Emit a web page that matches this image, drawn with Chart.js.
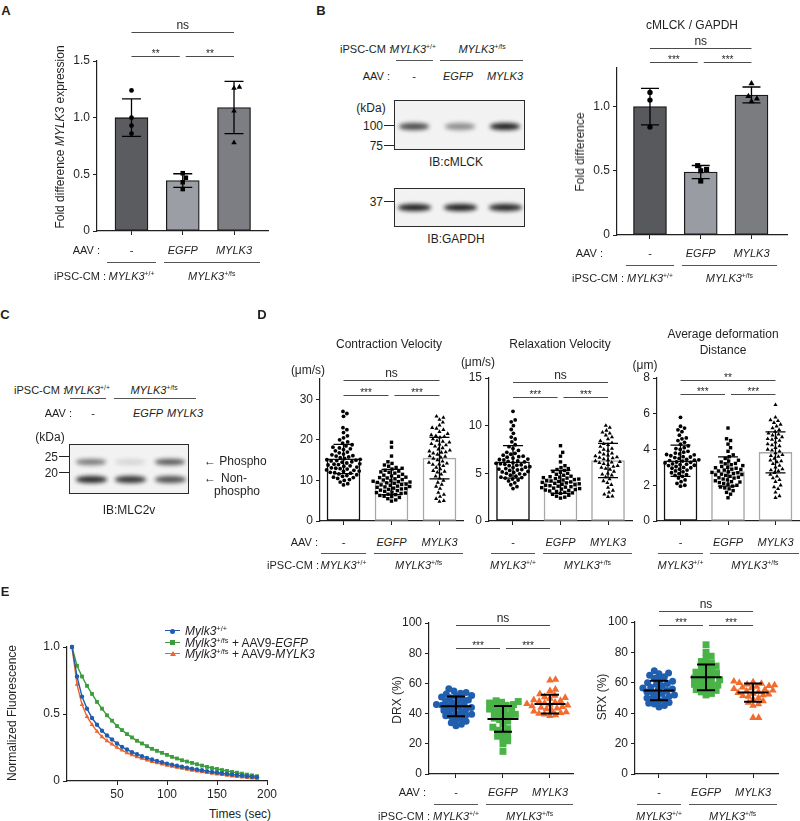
<!DOCTYPE html>
<html>
<head>
<meta charset="utf-8">
<script src="https://cdn.jsdelivr.net/npm/chart.js@4.4.0/dist/chart.umd.min.js"></script>
<style>
  body { margin: 0; background: #fff; overflow: hidden; }
  #fig { position: relative; width: 800px; height: 821px; overflow: hidden; font-family: "Liberation Sans", Arial, sans-serif; color: #231f20; }
  #fig canvas { position: absolute; }
  .t { position: absolute; white-space: nowrap; font-size: 11px; line-height: 1; }
  .t sup { font-size: 62%; line-height: 0; vertical-align: 0.55em; }
  .t.v { writing-mode: vertical-rl; }
  .hl { position: absolute; height: 0; }
  .blot { position: absolute; border: 1.5px solid #2b2b2b; background: #f2f2f2; box-sizing: border-box; }
  .band { position: absolute; background: #141414; border-radius: 45%; filter: blur(2px); }
</style>
</head>
<body>
<div id="fig"></div>
<script>
const fig = document.getElementById('fig');
const FONT = '"Liberation Sans", Arial, sans-serif';
const INK = '#231f20';

// ---- groups ----
const aavLabels = ['-', 'EGFP', 'MYLK3'];
const cellLabels = ['MYLK3+/+', 'MYLK3+/fs'];

// ---- A : MYLK3 expression ----
const aMean = [1.0, 0.445, 1.09];
const aSD = [0.165, 0.06, 0.23];
const aPts = [[1.24, 1.0, 0.93, 0.86], [0.51, 0.47, 0.43, 0.37], [1.27, 1.26, 1.06, 0.78]];
const aTicks = [0, 0.5, 1.0, 1.5];

// ---- B : cMLCK / GAPDH ----
const bMean = [1.0, 0.49, 1.09];
const bSD = [0.142, 0.051, 0.062];
const bPts = [[1.11, 1.05, 0.84], [0.54, 0.51, 0.50, 0.42], [1.18, 1.08, 1.06, 1.04]];
const bTicks = [0, 0.5, 1.0];
const cmlckBand = [0.75, 0.45, 0.95];
const gapdhBand = [0.95, 0.95, 0.92];

// ---- C : MLC2v blot ----
const phosphoBand = [0.55, 0.12, 0.7];
const nonPhosphoBand = [0.9, 0.85, 0.72];

// ---- D : contraction ----
const d1Mean = [15.3, 9.6, 15.5];
const d1SD = [3.6, 3.1, 5.1];
const d1Ticks = [0, 10, 20, 30];
const d1Pts = [
  [27, 26.5, 25.8, 23, 22.5, 21.8, 21, 20.5, 20, 19.5, 19.2, 18.8, 18.5, 18.2, 18, 17.6, 17.3, 17, 16.8, 16.5, 16.3, 16, 15.8, 15.6, 15.4, 15.2, 15, 14.8, 14.6, 14.5, 14.3, 14.1, 14, 13.8, 13.6, 13.5, 13.3, 13.1, 13, 12.8, 12.6, 12.5, 12.3, 12.2, 12, 11.8, 11.6, 11.4, 11.2, 11, 10.8, 10.5, 10.2, 10, 9.6, 9.2, 8.9, 14.9, 15.1, 13.9, 12.9, 16.1, 17.8, 11.9, 10.7],
  [19.4, 18.2, 16, 14.6, 14.2, 13.8, 13.5, 13.2, 13, 12.8, 12.5, 12.3, 12, 11.8, 11.5, 11.3, 11, 10.8, 10.6, 10.4, 10.2, 10, 9.8, 9.6, 9.5, 9.3, 9.1, 9, 8.8, 8.6, 8.5, 8.3, 8.1, 8, 7.8, 7.6, 7.5, 7.3, 7.1, 7, 6.8, 6.6, 6.5, 6.3, 6.1, 6, 5.8, 5.5, 5.2, 4.9, 9.7, 8.9, 10.1, 7.9, 11.1, 12.1, 6.9, 8.4, 9.4, 10.7],
  [25.8, 25.5, 25, 24.3, 23.6, 23, 22.5, 22, 21.5, 21, 20.6, 20.2, 19.8, 19.4, 19, 18.7, 18.4, 18, 17.7, 17.4, 17, 16.7, 16.4, 16, 15.7, 15.4, 15, 14.7, 14.4, 14, 13.6, 13.2, 12.8, 12.4, 12, 11.5, 11, 10.5, 10, 9.5, 9, 8.5, 8, 7, 6.5, 6, 5.5, 5, 4.8, 20.8, 18.9, 17.2, 15.9, 14.2, 22.8, 21.2, 19.6, 16.9, 13.9, 12.2]
];
const d2Mean = [6.2, 4.1, 6.35];
const d2SD = [1.7, 1.2, 1.8];
const d2Ticks = [0, 5, 10, 15];
const d2Pts = [
  [11.5, 10.6, 10.4, 10, 9.6, 9.2, 8.8, 8.6, 8.3, 8, 7.8, 7.6, 7.4, 7.2, 7, 6.9, 6.8, 6.7, 6.6, 6.5, 6.4, 6.3, 6.2, 6.1, 6, 5.9, 5.8, 5.7, 5.6, 5.5, 5.4, 5.3, 5.2, 5.1, 5, 4.9, 4.8, 4.7, 4.6, 4.5, 4.4, 4.3, 4.2, 4, 3.8, 3.6, 3.4, 6.05, 5.95, 5.45, 5.65, 6.25, 6.45, 7.1, 4.95, 5.15, 4.55, 6.75, 5.35, 5.85],
  [7.9, 7.2, 6.8, 6.2, 5.8, 5.6, 5.5, 5.4, 5.3, 5.2, 5.1, 5, 4.9, 4.8, 4.7, 4.6, 4.5, 4.4, 4.35, 4.3, 4.2, 4.15, 4.1, 4, 3.95, 3.9, 3.85, 3.8, 3.7, 3.65, 3.6, 3.55, 3.5, 3.45, 3.4, 3.3, 3.2, 3.1, 3, 2.9, 2.8, 2.7, 2.6, 2.5, 2.4, 4.05, 4.25, 3.75, 4.45, 3.35, 4.65, 3.15, 2.95, 4.55, 3.25],
  [10, 9.8, 9.5, 9.2, 9, 8.8, 8.6, 8.4, 8.2, 8, 7.8, 7.6, 7.4, 7.2, 7, 6.9, 6.8, 6.7, 6.6, 6.5, 6.4, 6.3, 6.2, 6.1, 6, 5.9, 5.8, 5.6, 5.4, 5.2, 5, 4.8, 4.6, 4.4, 4.2, 4, 3.8, 3.5, 3.2, 3, 2.8, 2.6, 7.1, 6.65, 5.5, 8.1, 7.5, 5.7, 6.15, 4.9, 9.3, 2.55]
];
const d3Mean = [3.37, 2.77, 3.84];
const d3SD = [0.87, 0.82, 1.15];
const d3Ticks = [0, 2, 4, 6, 8];
const d3Pts = [
  [5.8, 5.3, 5.2, 5.1, 5, 4.8, 4.6, 4.5, 4.4, 4.3, 4.2, 4.1, 4, 3.9, 3.85, 3.8, 3.75, 3.7, 3.65, 3.6, 3.55, 3.5, 3.45, 3.4, 3.35, 3.3, 3.25, 3.2, 3.15, 3.1, 3.05, 3, 2.95, 2.9, 2.85, 2.8, 2.75, 2.7, 2.6, 2.5, 2.4, 2.3, 2.2, 2.1, 2, 1.95, 3.42, 3.28, 3.12, 3.58, 2.98, 3.72, 2.65, 4.05, 3.38, 3.18, 2.55, 4.65],
  [5.2, 4.6, 4.5, 4.3, 4.1, 3.9, 3.7, 3.6, 3.5, 3.4, 3.3, 3.2, 3.15, 3.1, 3.05, 3, 2.95, 2.9, 2.85, 2.8, 2.75, 2.7, 2.65, 2.6, 2.55, 2.5, 2.45, 2.4, 2.35, 2.3, 2.25, 2.2, 2.15, 2.1, 2.05, 2, 1.95, 1.9, 1.85, 1.8, 1.7, 1.6, 1.5, 1.3, 2.72, 2.58, 2.88, 3.22, 2.42, 3.35, 2.18, 2.62, 2.98],
  [6.5, 5.8, 5.6, 5.5, 5.4, 5.3, 5.2, 5.1, 5, 4.9, 4.8, 4.7, 4.6, 4.5, 4.4, 4.3, 4.2, 4.1, 4, 3.9, 3.8, 3.7, 3.6, 3.5, 3.4, 3.3, 3.2, 3.1, 3, 2.9, 2.8, 2.7, 2.6, 2.5, 2.4, 2.3, 2.2, 2, 1.8, 1.6, 1.4, 1.3, 4.65, 4.55, 3.95, 4.25, 3.65, 4.85, 3.35, 5.65, 2.85, 1.9]
];

// ---- E : mant-ATP chase ----
const eTimes = [5, 10, 15, 20, 25, 30, 35, 40, 45, 50, 55, 60, 65, 70, 75, 80, 85, 90, 95, 100, 105, 110, 115, 120, 125, 130, 135, 140, 145, 150, 155, 160, 165, 170, 175, 180, 185, 190];
const eWT = [1.0, 0.78, 0.63, 0.54, 0.47, 0.42, 0.375, 0.34, 0.31, 0.28, 0.255, 0.235, 0.215, 0.2, 0.185, 0.172, 0.16, 0.15, 0.14, 0.13, 0.122, 0.114, 0.106, 0.099, 0.092, 0.086, 0.08, 0.074, 0.068, 0.063, 0.058, 0.053, 0.048, 0.044, 0.04, 0.036, 0.032, 0.028];
const eEGFP = [1.0, 0.86, 0.78, 0.71, 0.65, 0.59, 0.54, 0.49, 0.45, 0.41, 0.38, 0.35, 0.325, 0.30, 0.28, 0.26, 0.24, 0.225, 0.21, 0.195, 0.18, 0.168, 0.155, 0.145, 0.135, 0.125, 0.115, 0.105, 0.097, 0.09, 0.082, 0.075, 0.068, 0.062, 0.055, 0.048, 0.042, 0.036];
const eMYLK3 = [1.0, 0.72, 0.57, 0.48, 0.42, 0.37, 0.33, 0.30, 0.275, 0.25, 0.23, 0.21, 0.195, 0.18, 0.168, 0.156, 0.145, 0.135, 0.126, 0.117, 0.109, 0.101, 0.094, 0.087, 0.08, 0.074, 0.068, 0.062, 0.057, 0.052, 0.047, 0.042, 0.037, 0.033, 0.029, 0.025, 0.022, 0.019];
const eSeries = ['<i>Mylk3</i><sup>+/+</sup>', '<i>Mylk3</i><sup>+/fs</sup> + AAV9-<i>EGFP</i>', '<i>Mylk3</i><sup>+/fs</sup> + AAV9-<i>MYLK3</i>'];
const eColors = ['#1f5db0', '#3c9c3c', '#f0642a'];
const dotColors = ['#215fae', '#49b348', '#f26d2d'];

const drxMean = [44.8, 36.5, 46.3];
const drxSD = [6.5, 8.5, 6.2];
const drxPts = [
  [56.5, 55, 54, 53.5, 53, 52, 51.5, 51, 50.5, 50, 49, 48.5, 48, 47, 46.5, 46, 45.5, 45, 44.5, 44, 43.5, 43, 42, 41.5, 41, 40, 39.5, 39, 38.5, 38, 37, 36, 35, 34, 33, 32],
  [48.5, 48, 47.5, 47, 46, 45.5, 45, 44, 43, 42.5, 42, 41, 40, 39.5, 39, 38, 37, 36, 35, 33, 31, 30, 29, 28, 26, 25, 24, 22, 20, 15],
  [62.5, 62, 56, 55, 53, 52, 51, 50.5, 50, 49, 48.5, 48, 47.5, 47, 46.5, 46, 45.5, 45, 44.5, 44, 43.5, 43, 42, 41.5, 41, 40.5, 40, 39.5, 39, 38.5]
];
const srxMean = [55, 63.6, 53.6];
const srxSD = [6.4, 8.5, 6];
const srxPts = [
  [68, 66.5, 66, 65, 64, 63, 62, 61, 60, 59.5, 59, 58, 57, 56.5, 56, 55.5, 55, 54, 53.5, 53, 52, 51.5, 51, 50, 49.5, 49, 48, 47, 46.5, 46, 45, 44],
  [85, 80, 77.5, 76, 74, 73, 72, 71, 70, 69, 68, 67, 66.5, 66, 65, 64, 63, 62, 61.5, 61, 60, 59, 58.5, 58, 57, 56, 55.5, 55, 54, 53, 52],
  [61, 60.5, 60, 59.5, 59, 58.5, 58, 57.5, 57, 56.5, 56, 55.5, 55, 54.5, 54, 53.5, 53, 52.5, 52, 51.5, 51, 50, 49, 48, 47, 46, 45, 37, 37]
];
const pctTicks = [0, 20, 40, 60, 80, 100];

// ---------- helpers ----------
Chart.defaults.font.family = FONT;
Chart.defaults.font.size = 12;
Chart.defaults.color = INK;

function txt(x, y, html, o = {}) {
  const d = document.createElement('div');
  d.className = o.rot ? 't v' : 't';
  d.innerHTML = html;
  d.style.left = x + 'px';
  d.style.top = y + 'px';
  const ax = o.align === 'r' ? '-100%' : o.align === 'l' ? '0' : '-50%';
  d.style.transform = 'translate(' + ax + ',-50%)' + (o.rot ? ' rotate(180deg)' : '');
  if (o.size) d.style.fontSize = o.size + 'px';
  if (o.bold) d.style.fontWeight = 'bold';
  fig.appendChild(d);
}
function hline(x1, x2, y, col = '#555', w = 1.2) {
  const d = document.createElement('div');
  d.className = 'hl';
  d.style.left = x1 + 'px';
  d.style.top = (y - w / 2) + 'px';
  d.style.width = (x2 - x1) + 'px';
  d.style.borderTop = w + 'px solid ' + col;
  fig.appendChild(d);
}
const geno = s => { const i = s.indexOf('+'); return '<i>' + s.slice(0, i) + '</i><sup>' + s.slice(i) + '</sup>'; };
const aav = s => s === '-' ? '-' : '<i>' + s + '</i>';

// keeps the dots of one group from sitting on each other (pixel space)
function swarm(vals, diam, pxX, pxY) {
  const placed = [], out = new Array(vals.length);
  const order = vals.map((v, i) => i).sort((a, b) => vals[a] - vals[b]);
  order.forEach(i => {
    const py = vals[i] * pxY;
    const near = placed.filter(p => Math.abs(p.y - py) < diam);
    const cands = [0];
    near.forEach(p => { const dx = Math.sqrt(diam * diam - (p.y - py) ** 2); cands.push(p.x + dx, p.x - dx); });
    cands.sort((a, b) => Math.abs(a) - Math.abs(b));
    const px = cands.find(c => near.every(p => (p.x - c) ** 2 + (p.y - py) ** 2 >= diam * diam - 0.01));
    placed.push({ x: px, y: py });
    out[i] = px / pxX;
  });
  return out;
}

// error bars + significance brackets, drawn with the chart's own scales
const extrasPlugin = {
  id: 'extras',
  afterDatasetsDraw(chart) {
    const e = chart.canvas._extras;
    if (!e) return;
    const { ctx, chartArea: ca } = chart;
    const x = chart.scales.x, y = chart.scales.y;
    ctx.save();
    ctx.strokeStyle = '#000';
    ctx.lineWidth = e.errW;
    e.mean.forEach((m, i) => {
      const px = x.getPixelForValue(i), s = e.sd[i];
      const y1 = y.getPixelForValue(m + s), y0 = y.getPixelForValue(m - s), ym = y.getPixelForValue(m);
      ctx.beginPath();
      ctx.moveTo(px, y1); ctx.lineTo(px, y0);
      ctx.moveTo(px - e.cap / 2, y1); ctx.lineTo(px + e.cap / 2, y1);
      ctx.moveTo(px - e.cap / 2, y0); ctx.lineTo(px + e.cap / 2, y0);
      if (e.meanW) { ctx.moveTo(px - e.meanW / 2, ym); ctx.lineTo(px + e.meanW / 2, ym); }
      ctx.stroke();
    });
    e.sig.forEach(([a, b, off, label]) => {
      const yy = Math.round(ca.top - off) + 0.5;
      const xa = x.getPixelForValue(a) + (a === 1 ? 3 : 0);
      const xb = x.getPixelForValue(b) - (b === 1 ? 3 : 0);
      ctx.strokeStyle = '#4a4a4a';
      ctx.lineWidth = 1.2;
      ctx.beginPath(); ctx.moveTo(xa, yy); ctx.lineTo(xb, yy); ctx.stroke();
      const star = label[0] === '*';
      ctx.fillStyle = INK;
      ctx.textAlign = 'center';
      ctx.textBaseline = 'alphabetic';
      ctx.font = (star ? 10 : 12) + 'px ' + FONT;
      ctx.fillText(label, (xa + xb) / 2, yy - (star ? 0 : 4));
    });
    ctx.restore();
  }
};

const PL = 70, PT = 60;
function makeChart(box, o) {
  const [L, T, R, B] = box;
  const PR = o.padR || 12, AX = o.axH || 14;
  const cv = document.createElement('canvas');
  cv.width = R - L + PL + PR;
  cv.height = B - T + PT + AX;
  cv.style.left = (L - PL) + 'px';
  cv.style.top = (T - PT) + 'px';
  cv._extras = o.extras;
  fig.appendChild(cv);
  const grid = { display: true, drawOnChartArea: false, drawTicks: true, tickLength: 4, color: INK, lineWidth: 1 };
  const border = { display: true, color: INK, width: 1.2 };
  return new Chart(cv, {
    type: 'bar',
    data: { datasets: o.datasets },
    options: {
      responsive: false,
      animation: false,
      layout: { padding: { left: 0, top: PT, right: PR, bottom: 0 } },
      plugins: { legend: { display: false }, tooltip: { enabled: false } },
      scales: {
        x: {
          type: 'linear', min: o.xmin, max: o.xmax, offset: false,
          grid: Object.assign({}, grid, { offset: false }), border,
          afterBuildTicks: s => { s.ticks = o.xTicks.map(v => ({ value: v })); },
          ticks: { display: !!o.xLabels, padding: 2 },
          afterFit: s => { s.height = AX; }
        },
        y: {
          type: 'linear', min: 0, max: o.ymax,
          grid, border,
          afterBuildTicks: s => { s.ticks = o.yTicks.map(v => ({ value: v })); },
          ticks: { padding: 3, callback: o.yFmt || (v => String(v)) },
          afterFit: s => { s.width = PL; }
        }
      }
    },
    plugins: [extrasPlugin]
  });
}

// bar + dots chart for panels A, B, D
function barDots(box, xr, ymax, o) {
  const pxX = (box[2] - box[0]) / (xr[1] - xr[0]);
  const pxY = (box[3] - box[1]) / ymax;
  const styles = ['circle', 'rect', 'triangle'];
  const ds = [{
    type: 'bar', order: 2,
    data: o.mean.map((m, i) => ({ x: i, y: m })),
    backgroundColor: o.fill, borderColor: o.stroke, borderWidth: o.bw || 1.3,
    borderSkipped: false, barThickness: 33
  }];
  o.pts.forEach((vals, i) => {
    const dx = swarm(vals, o.diam, pxX, pxY);
    ds.push({
      type: 'scatter', order: 1, clip: false,
      data: vals.map((v, j) => ({ x: i + dx[j], y: v })),
      pointStyle: styles[i], pointRadius: o.r[i], pointBackgroundColor: '#000', pointBorderWidth: 0
    });
  });
  return makeChart(box, {
    xmin: xr[0], xmax: xr[1], ymax, yTicks: o.ticks, yFmt: o.yFmt, xTicks: [0, 1, 2], datasets: ds,
    extras: { mean: o.mean, sd: o.sd, errW: o.errW || 1.3, cap: o.cap || 19, sig: o.sig }
  });
}

// condition rows under a chart
function rows(ch, box, r1, r2, r3, heads) {
  const off = box[0] - PL;
  const c = [0, 1, 2].map(i => off + ch.scales.x.getPixelForValue(i));
  const sp = c[1] - c[0];
  const yB = box[3];
  aavLabels.forEach((s, i) => txt(c[i], yB + r1, aav(s)));
  hline(c[0] - 0.47 * sp, c[0] + 0.47 * sp, yB + r2);
  const s1 = c[1] - 0.37 * sp, s2 = c[2] + 0.5 * sp;
  hline(s1, s2, yB + r2);
  txt(c[0], yB + r3, geno(cellLabels[0]));
  txt((s1 + s2) / 2, yB + r3, geno(cellLabels[1]));
  if (heads) {
    txt(heads[0], yB + r1, 'AAV :', { align: 'r' });
    txt(heads[1], yB + r3, 'iPSC-CM :', { align: 'r' });
  }
}

function blotBox(x0, y0, x1, y1) {
  const d = document.createElement('div');
  d.className = 'blot';
  d.style.left = x0 + 'px'; d.style.top = y0 + 'px';
  d.style.width = (x1 - x0) + 'px'; d.style.height = (y1 - y0) + 'px';
  fig.appendChild(d);
}
function bands(lanes, cy, w, h, dens) {
  lanes.forEach((cx, i) => {
    const d = document.createElement('div');
    d.className = 'band';
    d.style.left = (cx - w / 2) + 'px'; d.style.top = (cy - h / 2) + 'px';
    d.style.width = w + 'px'; d.style.height = h + 'px';
    d.style.opacity = dens[i];
    fig.appendChild(d);
  });
}
function marker(xBox, y, label) {
  hline(xBox - 10, xBox, y, '#222', 1.5);
  txt(xBox - 11, y, label, { align: 'r', size: 12 });
}

const fmt1 = v => v === 0 ? '0' : v.toFixed(1);
const grays = ['#5b5c60', '#9c9ea5', '#7d7e83'];

// ---------- A ----------
const boxA = [97, 61, 268, 231];
const chA = barDots(boxA, [-0.673, 2.663], 1.5, {
  mean: aMean, sd: aSD, pts: aPts, ticks: aTicks, yFmt: fmt1,
  fill: grays, stroke: '#1a1a1a', diam: 5.5, r: [2.4, 3.2, 3.2], cap: 19,
  sig: [[0, 2, 29, 'ns'], [0, 1, 5, '**'], [1, 2, 5, '**']]
});

// ---------- B (right) ----------
const boxB = [617, 68, 787, 235];
const chB = barDots(boxB, [-0.65, 2.70], 1.3, {
  mean: bMean, sd: bSD, pts: bPts, ticks: bTicks, yFmt: fmt1,
  fill: ['#58595d', '#9a9ca3', '#7b7c80'], stroke: '#1a1a1a', diam: 6, r: [2.7, 3.6, 3.5], cap: 18,
  sig: [[0, 2, 20, 'ns'], [0, 1, 6, '***'], [1, 2, 6, '***']]
});

// ---------- D ----------
const dStroke = ['#111', '#a8a8a8', '#a8a8a8'];
const dFill = ['#fff', '#fff', '#fff'];
const boxD1 = [320, 379, 463, 521];
const chD1 = barDots(boxD1, [-0.49, 2.49], 35, {
  mean: d1Mean, sd: d1SD, pts: d1Pts, ticks: d1Ticks,
  fill: dFill, stroke: dStroke, bw: 1.5, diam: 4.4, r: [1.9, 2.4, 2.4], cap: 20,
  sig: [[0, 2, -1, 'ns'], [0, 1, -16, '***'], [1, 2, -16, '***']]
});
const boxD2 = [489, 378, 632, 521];
const chD2 = barDots(boxD2, [-0.505, 2.505], 15, {
  mean: d2Mean, sd: d2SD, pts: d2Pts, ticks: d2Ticks,
  fill: dFill, stroke: dStroke, bw: 1.5, diam: 4.4, r: [1.9, 2.4, 2.4], cap: 20,
  sig: [[0, 2, -4, 'ns'], [0, 1, -19, '***'], [1, 2, -19, '***']]
});
const boxD3 = [657, 378, 799, 521];
const chD3 = barDots(boxD3, [-0.495, 2.495], 8, {
  mean: d3Mean, sd: d3SD, pts: d3Pts, ticks: d3Ticks,
  fill: dFill, stroke: dStroke, bw: 1.5, diam: 4.4, r: [1.9, 2.4, 2.4], cap: 20,
  sig: [[0, 2, -2, '**'], [0, 1, -16, '***'], [1, 2, -16, '***']]
});

// ---------- E : line chart ----------
const boxE = [67, 647, 267, 781];
const eStyles = ['circle', 'rect', 'triangle'];
const chE = makeChart(boxE, {
  xmin: 0, xmax: 200, ymax: 1, yTicks: [0, 0.5, 1], yFmt: fmt1, xTicks: [50, 100, 150, 200], xLabels: true,
  padR: 20, axH: 24,
  datasets: [eWT, eEGFP, eMYLK3].map((vals, k) => ({
    type: 'line', clip: false, tension: 0,
    data: eTimes.map((t, i) => ({ x: t, y: vals[i] })),
    borderColor: eColors[k], borderWidth: 1.4,
    pointStyle: eStyles[k], pointRadius: k === 0 ? 2.2 : 2.7,
    pointBackgroundColor: eColors[k], pointBorderWidth: 0
  })),
  extras: { mean: [], sd: [], sig: [] }
});

// ---------- E : DRX / SRX ----------
function dotPlot(box, xr, mean, sd, pts, sig) {
  const pxX = (box[2] - box[0]) / (xr[1] - xr[0]);
  const pxY = (box[3] - box[1]) / 100;
  const ds = pts.map((vals, i) => {
    const dx = swarm(vals, 5.6, pxX, pxY);
    return {
      type: 'scatter', clip: false,
      data: vals.map((v, j) => ({ x: i + dx[j], y: v })),
      pointStyle: eStyles[i], pointRadius: [3.5, 4.9, 4.4][i],
      pointBackgroundColor: dotColors[i], pointBorderWidth: 0
    };
  });
  return makeChart(box, {
    xmin: xr[0], xmax: xr[1], ymax: 100, yTicks: pctTicks, xTicks: [0, 1, 2], datasets: ds,
    extras: { mean, sd, errW: 2, cap: 18, meanW: 31, sig }
  });
}
const boxDRX = [429, 623, 573, 774];
const chDRX = dotPlot(boxDRX, [-0.574, 2.49], drxMean, drxSD, drxPts,
  [[0, 2, -2, 'ns'], [0, 1, -25, '***'], [1, 2, -25, '***']]);
const boxSRX = [635, 622, 778, 774];
const chSRX = dotPlot(boxSRX, [-0.51, 2.53], srxMean, srxSD, srxPts,
  [[0, 2, 11, 'ns'], [0, 1, -3, '***'], [1, 2, -3, '***']]);

// ---------- text layer ----------
txt(6, 10, 'A', { bold: true, size: 13 });
txt(321, 10, 'B', { bold: true, size: 13 });
txt(5, 314, 'C', { bold: true, size: 13 });
txt(262, 314, 'D', { bold: true, size: 13 });
txt(5, 591, 'E', { bold: true, size: 13 });

// A
txt(60, 137, 'Fold difference <i>MYLK3</i> expression', { rot: true, size: 12 });
rows(chA, boxA, 19, 32, 45, [100, 106]);

// B blots
txt(392, 49, 'iPSC-CM :', { align: 'r' });
txt(413, 49, geno(cellLabels[0]));
txt(482, 49, geno(cellLabels[1]));
hline(396, 433, 61);
hline(440, 523, 61);
txt(390, 76, 'AAV :', { align: 'r' });
[414, 458, 505].forEach((x, i) => txt(x, 76, aav(aavLabels[i])));
blotBox(394, 100, 525, 150);
bands([414, 460, 505], 126, 30, 7, cmlckBand);
txt(371, 108, '(kDa)', { size: 12 });
marker(394, 126, '100');
marker(394, 146, '75');
txt(456, 162, 'IB:cMLCK', { size: 12 });
blotBox(394, 188, 525, 227);
bands([414, 460, 505], 207, 33, 7, gapdhBand);
marker(394, 202, '37');
txt(456, 239, 'IB:GAPDH', { size: 12 });

// B chart
txt(692, 25, 'cMLCK / GAPDH', { size: 12 });
txt(580, 152, 'Fold difference', { rot: true, size: 12 });
rows(chB, boxB, 18, 31, 43, [603, 624]);

// C blot
txt(66, 390, 'iPSC-CM :', { align: 'r' });
txt(87, 390, geno(cellLabels[0]));
txt(154, 390, geno(cellLabels[1]));
hline(70, 106, 399);
hline(114, 196, 399);
txt(72, 413, 'AAV :', { align: 'r' });
[93, 148, 185].forEach((x, i) => txt(x, 413, aav(aavLabels[i])));
blotBox(69, 444, 189, 494);
bands([91, 130, 170], 462, 30, 6, phosphoBand);
bands([91, 130, 170], 479, 31, 7, nonPhosphoBand);
txt(50, 437, '(kDa)', { size: 12 });
marker(69, 457, '25');
marker(69, 473, '20');
txt(204, 461, '\u2190 Phospho', { align: 'l', size: 12 });
txt(204, 478, '\u2190', { align: 'l', size: 12 });
txt(234, 478, 'Non-', { size: 12 });
txt(237, 491, 'phospho', { size: 12 });
txt(129, 510, 'IB:MLC2v', { size: 12 });

// D
txt(389, 344, 'Contraction Velocity', { size: 12 });
txt(560, 344, 'Relaxation Velocity', { size: 12 });
txt(723, 334, 'Average deformation', { size: 12 });
txt(723, 350, 'Distance', { size: 12 });
txt(308, 370, '(\u03bcm/s)', { size: 12 });
txt(478, 362, '(\u03bcm/s)', { size: 12 });
txt(645, 365, '(\u03bcm)', { size: 12 });
rows(chD1, boxD1, 21, 33, 44, [318, 319]);
rows(chD2, boxD2, 21, 33, 44);
rows(chD3, boxD3, 21, 33, 44);

// E line chart
txt(12, 713, 'Normalized Fluorescence', { rot: true, size: 12 });
txt(240, 814, 'Times (sec)', { size: 12 });
eSeries.forEach((s, k) => {
  const y = 631 + k * 11.5;
  hline(165, 180, y, eColors[k], 1.4);
  const m = document.createElement('div');
  m.style.position = 'absolute';
  if (k === 2) {
    m.style.left = '169.5px'; m.style.top = (y - 3.5) + 'px';
    m.style.borderLeft = '3px solid transparent'; m.style.borderRight = '3px solid transparent';
    m.style.borderBottom = '5px solid ' + eColors[k];
  } else {
    m.style.left = '170px'; m.style.top = (y - 2.5) + 'px';
    m.style.width = '5px'; m.style.height = '5px'; m.style.background = eColors[k];
    if (k === 0) m.style.borderRadius = '50%';
  }
  fig.appendChild(m);
  txt(185, y, s, { align: 'l', size: 12 });
});

// E dot plots
txt(397, 700, 'DRX (%)', { rot: true, size: 12 });
txt(602, 697, 'SRX (%)', { rot: true, size: 12 });
rows(chDRX, boxDRX, 18, 31, 42, [426, 430]);
rows(chSRX, boxSRX, 18, 31, 42);
</script>
</body>
</html>
